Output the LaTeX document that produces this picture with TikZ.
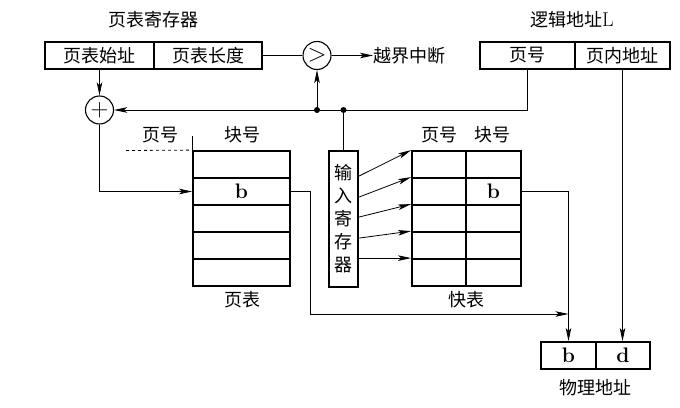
\documentclass[tikz,border=0pt]{standalone}
\usepackage{fontspec}
\newfontfamily\cjk{Noto Sans CJK SC}
\usetikzlibrary{arrows.meta}
\newcommand\latn[1]{{\rmfamily\bfseries\fontsize{21}{22}\selectfont #1}}
\begin{document}
\begin{tikzpicture}[x=1pt,y=-1pt,
  every node/.style={font=\cjk\fontsize{18}{20}\selectfont, inner sep=0pt},
  box/.style={draw, line width=1.8pt, minimum height=27pt},
  cell/.style={draw, line width=1.8pt, minimum height=27pt},
  circ/.style={draw, circle, line width=1.1pt, minimum size=28pt},
  conn/.style={line width=0.8pt},
  arr/.style={conn, -{Stealth[length=13pt,width=5.5pt,inset=3pt]}},
  dot/.style={circle, fill, minimum size=6pt}
]
\useasboundingbox (0,0) rectangle (680,407);
% page table register
\node[box, minimum width=109pt] (ptr1) at (99.5,55.5) {页表始址};
\node[box, minimum width=108pt] (ptr2) at (208,55.5) {页表长度};
\node (lptr) at (153,20) {页表寄存器};
% comparator
\node[circ] (cmp) at (317,55.5) {\fontsize{24}{24}\selectfont$>$};
\node[anchor=west] (intr) at (373,55.5) {越界中断};
% logical address
\node[box, minimum width=95pt] (la1) at (527.5,55.5) {页号};
\node[box, minimum width=95pt] (la2) at (622.5,55.5) {页内地址};
\node (lla) at (572,20) {逻辑地址{\rmfamily\fontsize{20}{20}\selectfont L}};
% adder
\node[circ] (add) at (99.5,110) {\fontsize{24}{24}\selectfont$+$};
% junctions
\node[dot] (j1) at (317,110) {};
\node[dot] (j2) at (343.5,110) {};
% page table
\foreach \i/\y in {1/164.5,2/191.5,3/218.5,4/245.5,5/272.5}{
  \node[cell, minimum width=97pt] (pt\i) at (241.5,\y) {};
}
\node at (pt2) {\latn{b}};
\node (pth1) at (160,135) {页号};
\node (pth2) at (242,135) {块号};
\node (ptl) at (242,300) {页表};
% input register
\node[box, minimum width=29pt, minimum height=136pt, align=center,
  font=\cjk\fontsize{18}{23}\selectfont] (inreg) at (343.5,219) {输\\入\\寄\\存\\器};
% fast table
\foreach \i/\y in {1/164.5,2/191.5,3/218.5,4/245.5,5/272.5}{
  \node[cell, minimum width=54pt] (fa\i) at (439,\y) {};
  \node[cell, minimum width=55pt] (fb\i) at (493.5,\y) {};
}
\node at (fb2) {\latn{b}};
\node (fth1) at (439,135) {页号};
\node (fth2) at (492,135) {块号};
\node (ftl) at (466,300) {快表};
% physical address
\node[box, minimum width=55pt] (pa1) at (568.5,355.5) {\latn{b}};
\node[box, minimum width=54pt] (pa2) at (623,355.5) {\latn{d}};
\node (lpa) at (595,388) {物理地址};
% connectors
\draw[conn] (ptr2.east) -- (cmp.west);
\draw[arr] (cmp.east) -- (intr.west);
\draw[arr] (ptr1.south) -- (add.north);
\draw[arr] (la1.south) |- (add.east);
\draw[arr] (j1.center) -- (cmp.south);
\draw[conn] (j2.center) -- (inreg.north);
\draw[arr] (add.south) |- (pt2.west);
\draw[conn, dashed] (126,150.5) -- (pt1.north west);
\draw[conn] (pt1.north west) -- ++(0,-14);
\coordinate (mj) at (568.5,314);
\draw[arr] (pt2.east) -- ++(19,0) |- (mj);
\draw[arr] (fb2.east) -| (pa1.north);
\draw[arr] (la2.south) -- (la2.south |- pa2.north);
\draw[arr] ([yshift=-26pt]inreg.north east) -- (fa1.north west);
\draw[arr] ([yshift=-47pt]inreg.north east) -- (fa2.north west);
\draw[arr] ([yshift=-67pt]inreg.north east) -- (fa3.north west);
\draw[arr] ([yshift=-88pt]inreg.north east) -- (fa4.north west);
\draw[arr] ([yshift=-108pt]inreg.north east) -- (fa5.north west);
\end{tikzpicture}
\end{document}
